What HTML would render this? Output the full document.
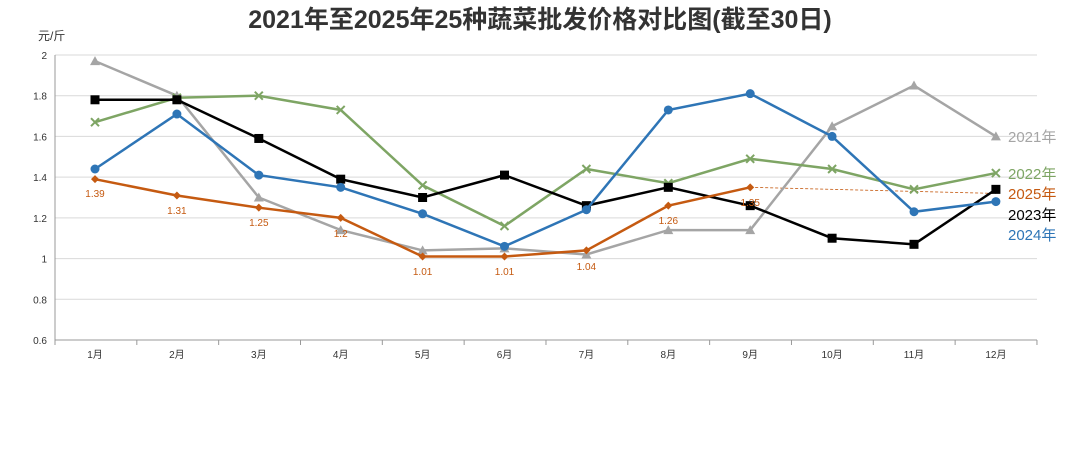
<!DOCTYPE html>
<html><head><meta charset="utf-8"><style>
body{margin:0;background:#fff;width:1080px;height:449px;overflow:hidden}
svg{font-family:"Liberation Sans","Noto Sans CJK SC",sans-serif}
</style></head><body>
<svg id="s" width="1080" height="449" xmlns="http://www.w3.org/2000/svg">
<text x="540" y="28" text-anchor="middle" font-size="25" font-weight="bold" fill="#333">2021年至2025年25种蔬菜批发价格对比图(截至30日)</text>
<text x="38" y="40" font-size="12" fill="#333">元/斤</text>
<g id="g"></g>
</svg>
<script>
const g=document.getElementById('g');let h='';
const X=i=>95+i*81.9, Y=v=>340-(v-0.6)*203.57;
for(let k=0;k<8;k++){const v=0.6+k*0.2,y=Y(v);h+=`<line x1="55" x2="1037" y1="${y}" y2="${y}" stroke="${k?'#d9d9d9':'#999'}"/>`;h+=`<text x="47" y="${y+4}" text-anchor="end" font-size="10" fill="#333">${+v.toFixed(1)}</text>`;}
h+=`<line x1="55" x2="55" y1="55" y2="340" stroke="#999"/>`;
for(let i=0;i<=12;i++){const x=55+i*81.83;h+=`<line x1="${x}" x2="${x}" y1="340" y2="345" stroke="#999"/>`;}
for(let i=0;i<12;i++)h+=`<text x="${X(i)}" y="358" text-anchor="middle" font-size="10" fill="#333">${i+1}月</text>`;
const S=[
['#a5a5a5','tri',[1.97,1.80,1.30,1.14,1.04,1.05,1.02,1.14,1.14,1.65,1.85,1.60],'2021年',142],
['#7ea564','x',[1.67,1.79,1.80,1.73,1.36,1.16,1.44,1.37,1.49,1.44,1.34,1.42],'2022年',179],
['#000','sq',[1.78,1.78,1.59,1.39,1.30,1.41,1.26,1.35,1.26,1.10,1.07,1.34],'2023年',220],
['#2e75b6','c',[1.44,1.71,1.41,1.35,1.22,1.06,1.24,1.73,1.81,1.60,1.23,1.28],'2024年',240],
['#c55a11','d',[1.39,1.31,1.25,1.20,1.01,1.01,1.04,1.26,1.35],'2025年',199]];
h+=`<line x1="${X(8)}" y1="${Y(1.35)}" x2="${X(11)}" y2="${Y(1.32)}" stroke="#c55a11" stroke-dasharray="3,2" stroke-width="0.8"/>`;
for(const [c,m,d,l,ly] of S){
h+=`<polyline fill="none" stroke="${c}" stroke-width="2.5" points="${d.map((v,i)=>X(i)+','+Y(v)).join(' ')}"/>`;
d.forEach((v,i)=>{const x=X(i),y=Y(v);
if(m=='tri')h+=`<polygon points="${x},${y-5} ${x-5},${y+4} ${x+5},${y+4}" fill="${c}"/>`;
if(m=='x')h+=`<path d="M${x-4} ${y-4}L${x+4} ${y+4}M${x-4} ${y+4}L${x+4} ${y-4}" stroke="${c}" stroke-width="2"/>`;
if(m=='sq')h+=`<rect x="${x-4.5}" y="${y-4.5}" width="9" height="9" fill="${c}"/>`;
if(m=='c')h+=`<circle cx="${x}" cy="${y}" r="4.5" fill="${c}"/>`;
if(m=='d')h+=`<polygon points="${x},${y-4} ${x+4},${y} ${x},${y+4} ${x-4},${y}" fill="${c}"/>`;});
h+=`<text x="1008" y="${ly}" font-size="15" fill="${c}">${l}</text>`;}
const L=[['1.39',0,197],['1.31',1,214],['1.25',2,226],['1.2',3,237],['1.01',4,275],['1.01',5,275],['1.04',6,270],['1.26',7,224],['1.35',8,206]];
for(const [t,i,y] of L)h+=`<text x="${X(i)}" y="${y}" text-anchor="middle" font-size="10" fill="#c55a11">${t}</text>`;
g.innerHTML=h;
</script>
</body></html>
